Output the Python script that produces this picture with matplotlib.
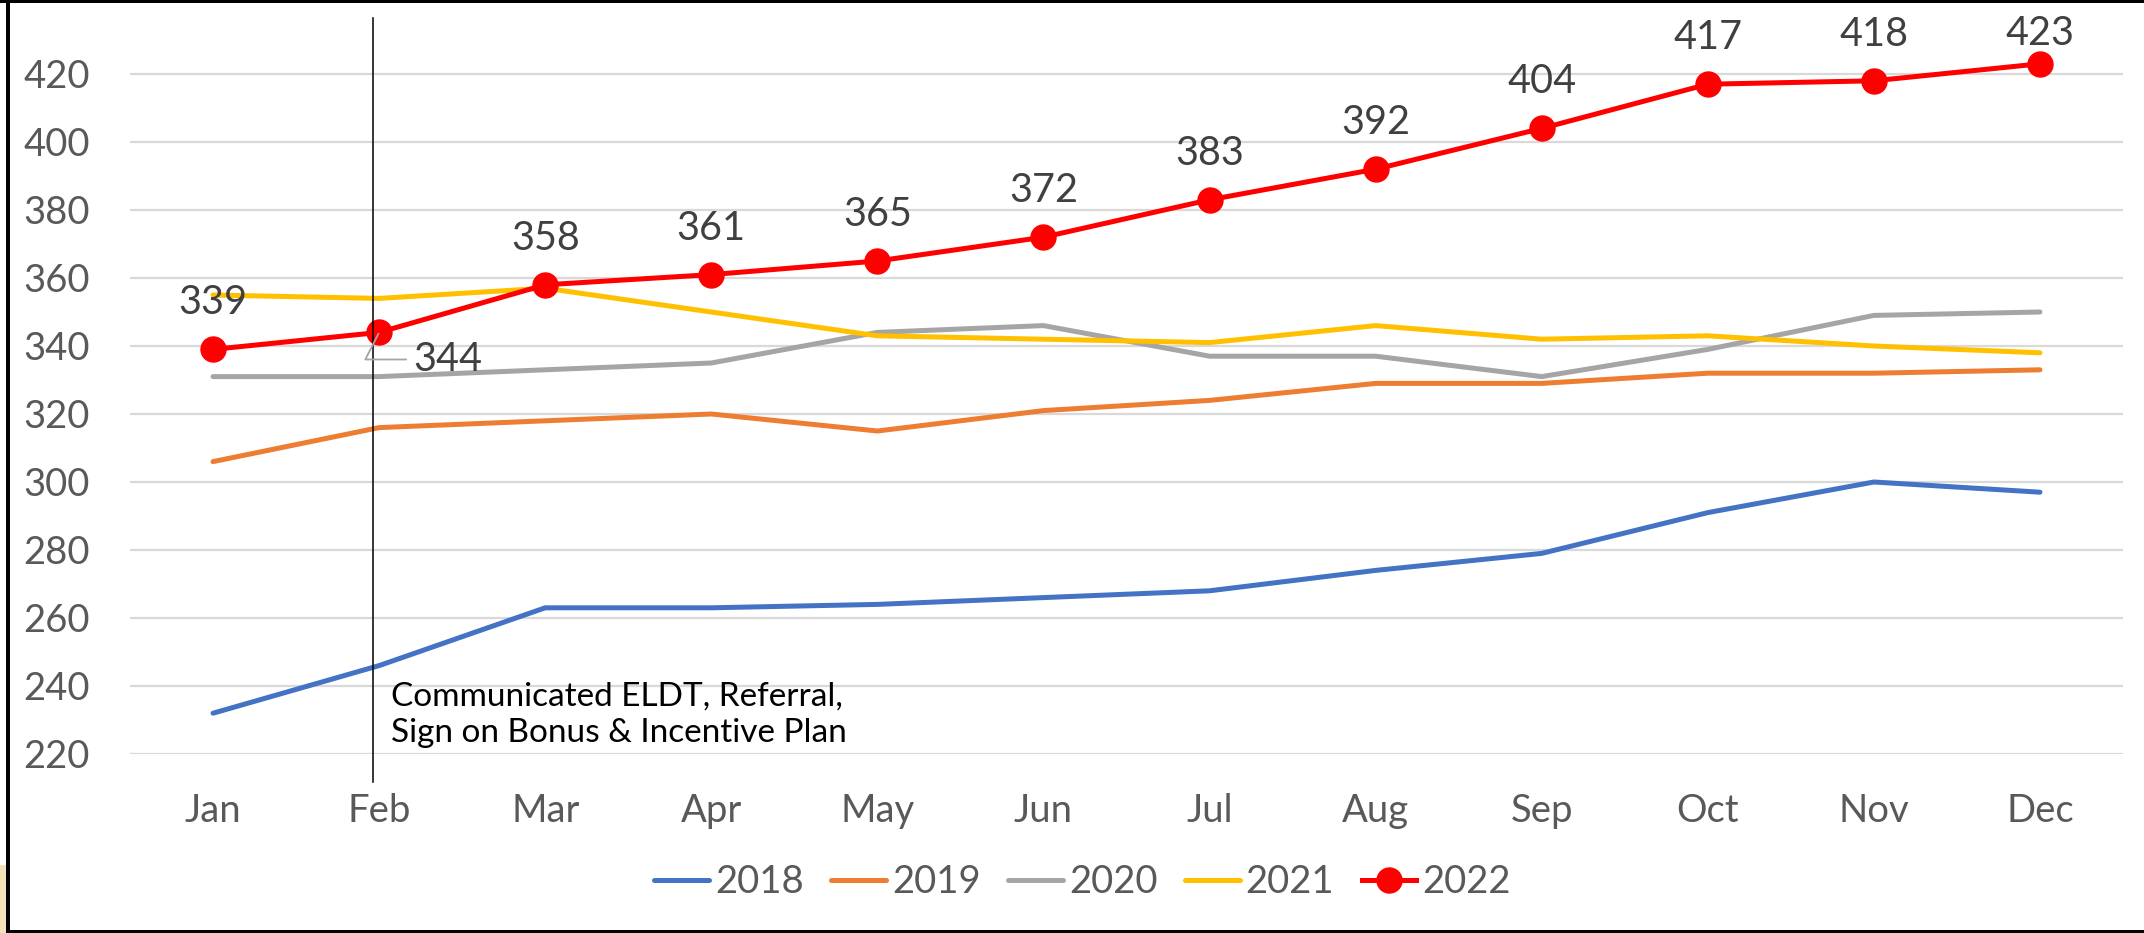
import matplotlib
import matplotlib.pyplot as plt
import matplotlib.transforms as mtransforms
from matplotlib.lines import Line2D
from matplotlib.patches import Rectangle

matplotlib.use("Agg")

months = ["Jan", "Feb", "Mar", "Apr", "May", "Jun",
          "Jul", "Aug", "Sep", "Oct", "Nov", "Dec"]
years = ["2018", "2019", "2020", "2021", "2022"]
s2018 = [232, 246, 263, 263, 264, 266, 268, 274, 279, 291, 300, 297]
s2019 = [306, 316, 318, 320, 315, 321, 324, 329, 329, 332, 332, 333]
s2020 = [331, 331, 333, 335, 344, 346, 337, 337, 331, 339, 349, 350]
s2021 = [355, 354, 357, 350, 343, 342, 341, 346, 342, 343, 340, 338]
s2022 = [339, 344, 358, 361, 365, 372, 383, 392, 404, 417, 418, 423]
y_ticks = list(range(220, 421, 20))
note = "Communicated ELDT, Referral,\nSign on Bonus & Incentive Plan"
note_month = 1  # Feb

colors = ["#4472C4", "#ED7D31", "#A5A5A5", "#FFC000", "#FF0000"]

plt.rcParams["font.family"] = ["Lato", "DejaVu Sans"]

W, H = 2144, 933
fig = plt.figure(figsize=(W / 100, H / 100), dpi=100)
ax = fig.add_axes([130 / W, 1 - 754 / H, (2123 - 130) / W, (754 - 40) / H])

x = list(range(len(months)))
for name, vals, c in zip(years[:4], [s2018, s2019, s2020, s2021], colors[:4]):
    ax.plot(x, vals, color=c, lw=3.6, solid_capstyle="round", label=name, zorder=3)
ax.plot(x, s2022, color=colors[4], lw=3.6, marker="o", markersize=18,
        label=years[4], zorder=4)

# data labels for 2022
for i, v in enumerate(s2022):
    if i == note_month:
        ax.annotate(str(v), xy=(i, v), xytext=(24.5, -19.5), textcoords="offset points",
                    ha="left", va="center", fontsize=28.5, color="#404040", zorder=6,
                    arrowprops=dict(arrowstyle="-", color="#A5A5A5", lw=1.3,
                                    relpos=(0, 0.5), shrinkA=3, shrinkB=1,
                                    connectionstyle="angle,angleA=0,angleB=63,rad=0"))
    else:
        dy = 22 if i == len(s2022) - 1 else 33.5
        ax.annotate(str(v), xy=(i, v), xytext=(0, dy), textcoords="offset points",
                    ha="center", va="center", fontsize=28.5, color="#404040", zorder=6)

ax.set_xlim(-0.5, 11.5)
ax.set_ylim(220, 430)
ax.set_xticks(x)
ax.set_xticklabels(months)
ax.set_yticks(y_ticks)
ax.tick_params(axis="both", length=0, labelsize=27.5, labelcolor="#595959")
ax.tick_params(axis="y", pad=29)
ax.tick_params(axis="x", pad=28)
ax.grid(axis="y", color="#D9D9D9", lw=1.6)
ax.set_axisbelow(True)
for sp in ax.spines.values():
    sp.set_visible(False)

# vertical marker line and note
trans = mtransforms.blended_transform_factory(ax.transData, fig.transFigure)
ax.add_line(Line2D([note_month - 0.036] * 2, [1 - 18 / H, 1 - 782 / H], transform=trans,
                   color="black", lw=1.1, clip_on=False, zorder=5))
ax.text(note_month + 0.072, 231.5, note, ha="left", va="center", fontsize=24,
        color="black", linespacing=1.3, zorder=6)

ax.legend(loc="center", bbox_to_anchor=(0.505, 1 - 882 / H), bbox_transform=fig.transFigure,
          ncol=5, frameon=False, fontsize=27.5, labelcolor="#595959",
          handlelength=1.43, handletextpad=0.16, columnspacing=0.72)

# outer frame like the screenshot
fig.add_artist(Rectangle((0, 1 - 3 / H), 1, 3 / H, transform=fig.transFigure,
                         color="black", lw=0))
fig.add_artist(Rectangle((6 / W, 0), 4 / W, 1, transform=fig.transFigure,
                         color="black", lw=0))
fig.add_artist(Rectangle((0, 0), 1, 3 / H, transform=fig.transFigure,
                         color="black", lw=0))
fig.add_artist(Rectangle((0, 0), 6 / W, 68 / H, transform=fig.transFigure,
                         color="#F3E2B8", lw=0))

fig.savefig("out.png", dpi=100)
